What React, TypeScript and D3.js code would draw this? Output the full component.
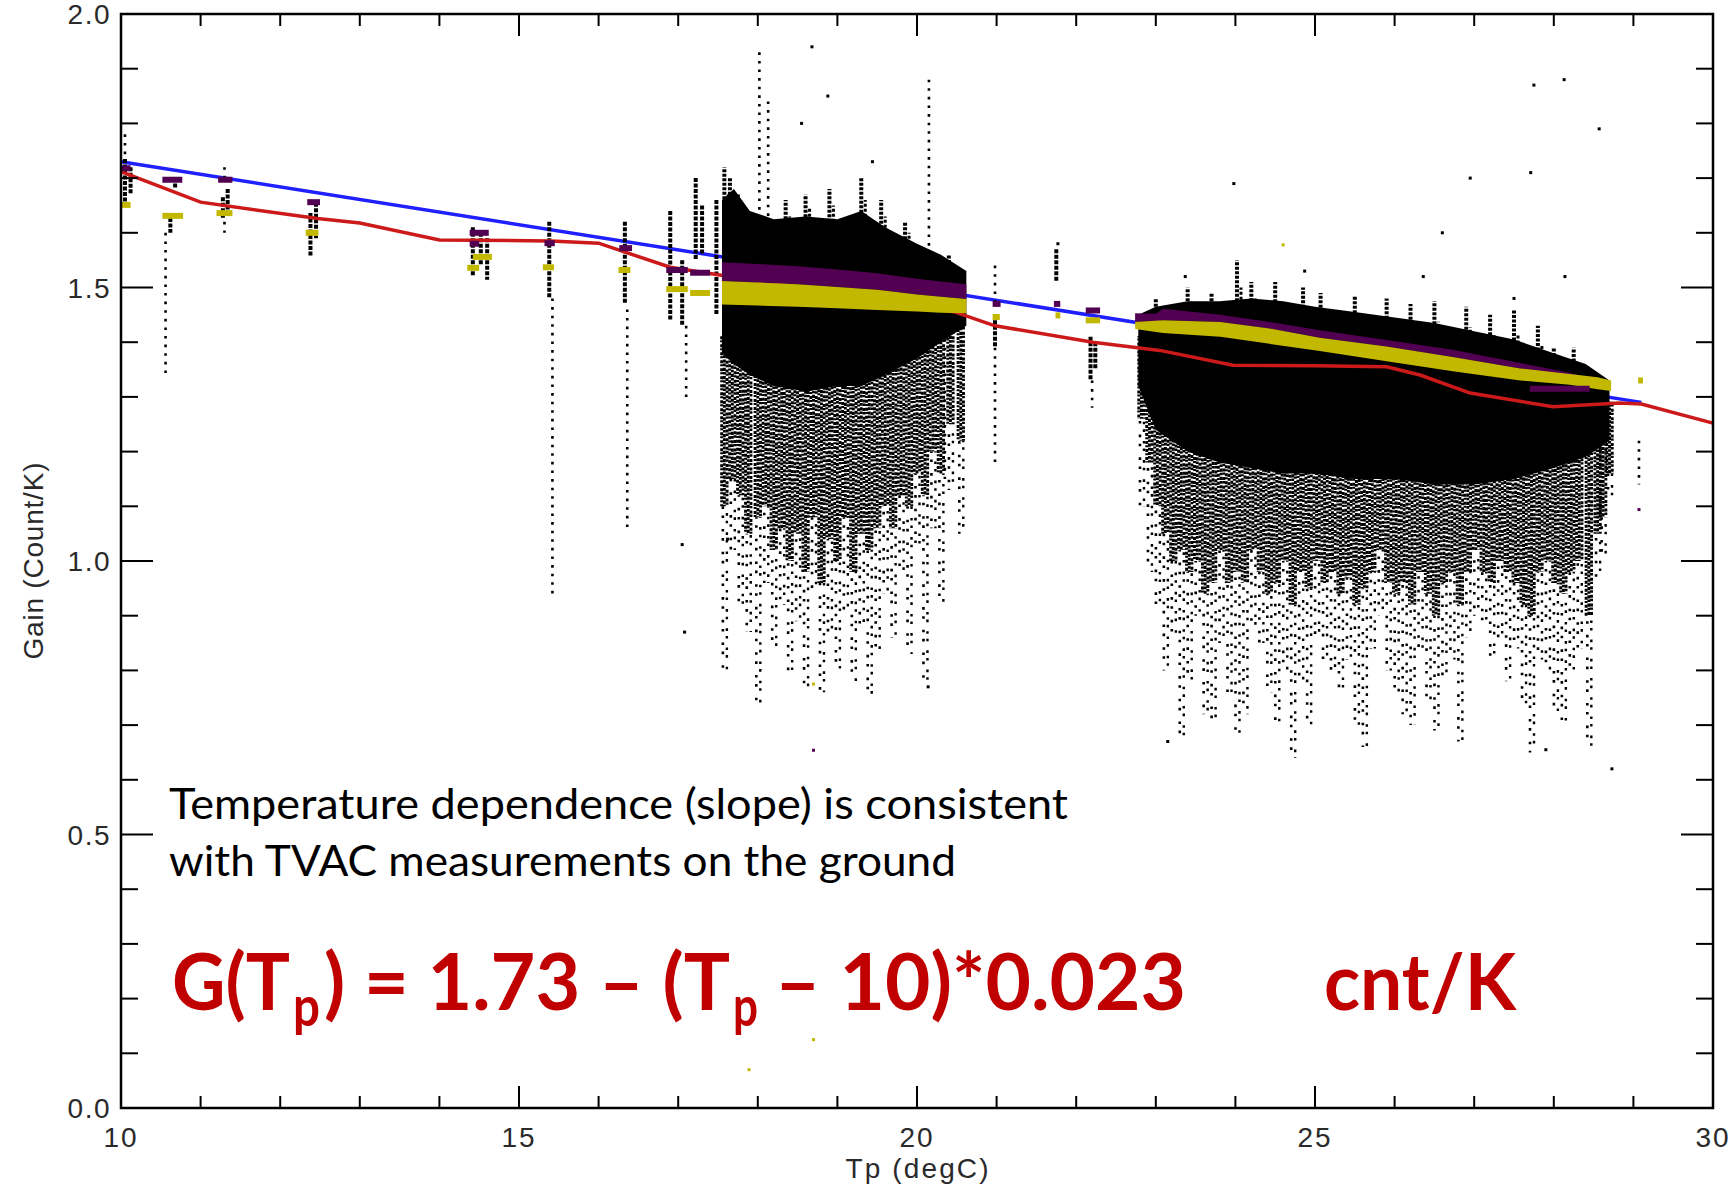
import React from "react";
import * as d3 from "d3";

// ---- chart data ----
const xMajor = [10, 15, 20, 25, 30];
const yMajor = [0.0, 0.5, 1.0, 1.5, 2.0];

// blue line: ground (TVAC) fit, two end points
const blueT = [10.0, 29.1];
const blueG = [1.73, 1.29];

// red line: on-orbit running gain
const redT = [10, 11.0, 12.47, 13.0, 14.0, 15.4, 16.0, 16.9, 17.52, 18.5, 19.5, 20.48, 20.98, 22.21, 23.05, 23.97, 25.0, 25.9, 26.32, 26.95, 27.99, 28.83, 29.1, 30];
const redG = [1.712, 1.656, 1.626, 1.618, 1.587, 1.585, 1.581, 1.537, 1.523, 1.5, 1.475, 1.455, 1.43, 1.4, 1.385, 1.358, 1.357, 1.355, 1.34, 1.307, 1.282, 1.289, 1.287, 1.252];

// dense black cores [T, top, bottom]
const core1: [number, number, number][] = [
  [17.55, 1.66, 1.38], [17.7, 1.68, 1.36], [17.9, 1.64, 1.34], [18.2, 1.625, 1.32], [18.6, 1.63, 1.31],
  [19.0, 1.625, 1.32], [19.3, 1.64, 1.32], [19.6, 1.61, 1.34], [20.0, 1.58, 1.37], [20.3, 1.56, 1.4], [20.62, 1.53, 1.43],
];
const core2: [number, number, number][] = [
  [22.78, 1.45, 1.32], [23.0, 1.465, 1.24], [23.4, 1.475, 1.2], [23.8, 1.475, 1.18], [24.2, 1.48, 1.17], [24.6, 1.475, 1.16],
  [25.0, 1.465, 1.16], [25.5, 1.455, 1.15], [26.0, 1.445, 1.15], [26.5, 1.435, 1.14], [27.0, 1.42, 1.14], [27.5, 1.405, 1.15],
  [28.0, 1.38, 1.17], [28.4, 1.36, 1.19], [28.7, 1.33, 1.22],
];

// purple / yellow bands inside the clusters [T, top, bottom]
const purple1: [number, number, number][] = [
  [17.55, 1.546, 1.512], [18.0, 1.543, 1.509], [18.5, 1.539, 1.506], [19.0, 1.533, 1.501], [19.5, 1.526, 1.496],
  [20.0, 1.516, 1.487], [20.3, 1.511, 1.483], [20.62, 1.506, 1.479],
];
const yellow1: [number, number, number][] = [
  [17.55, 1.512, 1.469], [18.0, 1.509, 1.467], [18.5, 1.506, 1.465], [19.0, 1.501, 1.462], [19.5, 1.496, 1.459],
  [20.0, 1.487, 1.456], [20.3, 1.483, 1.454], [20.62, 1.479, 1.453],
];
const purple2: [number, number, number][] = [
  [22.74, 1.453, 1.437], [23.0, 1.452, 1.438], [23.09, 1.461, 1.44], [23.81, 1.45, 1.437], [24.43, 1.437, 1.425],
  [25.06, 1.422, 1.408], [25.9, 1.404, 1.392], [26.73, 1.386, 1.373], [27.58, 1.362, 1.352], [28.2, 1.344, 1.34], [28.4, 1.336, 1.332],
];
const yellow2: [number, number, number][] = [
  [22.74, 1.437, 1.424], [23.09, 1.44, 1.417], [23.81, 1.437, 1.41], [24.43, 1.425, 1.397], [25.06, 1.408, 1.384],
  [25.9, 1.392, 1.365], [26.73, 1.373, 1.347], [27.58, 1.352, 1.33], [28.2, 1.342, 1.322], [28.55, 1.336, 1.314], [28.72, 1.33, 1.311],
];

// dotted columns below the cores [T, top, end of dense part, bottom]
const streaks1: [number, number, number, number][] = [
  [17.58, 1.4, 1.1, 0.8], [17.68, 1.38, 1.15, 1.02], [17.78, 1.37, 1.12, 0.92], [17.88, 1.36, 1.05, 0.87],
  [18.0, 1.35, 1.08, 0.74], [18.1, 1.34, 1.1, 0.96], [18.2, 1.33, 1.02, 0.84], [18.3, 1.33, 1.06, 0.92],
  [18.4, 1.32, 1.0, 0.8], [18.5, 1.32, 1.05, 0.89], [18.6, 1.32, 0.98, 0.77], [18.7, 1.32, 1.08, 0.95],
  [18.8, 1.32, 0.96, 0.76], [18.9, 1.32, 1.04, 0.86], [19.0, 1.33, 1.0, 0.8], [19.1, 1.33, 1.08, 0.91],
  [19.2, 1.33, 0.98, 0.78], [19.3, 1.33, 1.05, 0.88], [19.4, 1.34, 1.02, 0.75], [19.5, 1.34, 1.06, 0.83],
  [19.6, 1.35, 1.1, 0.94], [19.7, 1.36, 1.06, 0.86], [19.8, 1.37, 1.12, 0.98], [19.9, 1.38, 1.1, 0.83],
  [20.0, 1.39, 1.16, 1.02], [20.1, 1.4, 1.12, 0.78], [20.2, 1.41, 1.2, 1.06], [20.3, 1.42, 1.16, 0.92],
  [20.42, 1.43, 1.25, 1.13], [20.55, 1.44, 1.22, 1.05],
];
const streaks2: [number, number, number, number][] = [
  [22.82, 1.4, 1.26, 1.1], [22.92, 1.3, 1.18, 0.98], [23.02, 1.26, 1.1, 0.92], [23.12, 1.24, 1.05, 0.8],
  [23.22, 1.23, 1.0, 0.86], [23.32, 1.22, 1.02, 0.67], [23.42, 1.21, 0.98, 0.78], [23.52, 1.2, 1.0, 0.9],
  [23.62, 1.2, 0.94, 0.72], [23.72, 1.2, 0.96, 0.7], [23.82, 1.19, 1.02, 0.85], [23.92, 1.19, 0.96, 0.75],
  [24.02, 1.18, 0.98, 0.68], [24.12, 1.18, 0.96, 0.72], [24.22, 1.18, 1.02, 0.88], [24.32, 1.17, 0.98, 0.85],
  [24.42, 1.17, 0.94, 0.76], [24.52, 1.17, 0.96, 0.7], [24.62, 1.17, 1.0, 0.8], [24.72, 1.17, 0.92, 0.64],
  [24.82, 1.17, 0.98, 0.78], [24.92, 1.17, 0.95, 0.7], [25.02, 1.17, 1.0, 0.86], [25.12, 1.17, 0.96, 0.82],
  [25.22, 1.16, 0.98, 0.8], [25.32, 1.16, 0.94, 0.76], [25.42, 1.16, 0.97, 0.82], [25.52, 1.16, 0.92, 0.7],
  [25.62, 1.16, 0.95, 0.66], [25.72, 1.16, 0.98, 0.84], [25.82, 1.16, 1.02, 0.9], [25.92, 1.16, 0.96, 0.8],
  [26.02, 1.16, 0.94, 0.76], [26.12, 1.15, 0.96, 0.72], [26.22, 1.15, 0.92, 0.7], [26.32, 1.15, 0.98, 0.84],
  [26.42, 1.15, 0.94, 0.74], [26.52, 1.15, 0.9, 0.69], [26.62, 1.15, 0.96, 0.78], [26.72, 1.15, 0.98, 0.82],
  [26.82, 1.15, 0.92, 0.67], [26.92, 1.15, 0.98, 0.86], [27.02, 1.15, 1.02, 0.9], [27.12, 1.15, 0.98, 0.89],
  [27.22, 1.15, 0.96, 0.82], [27.32, 1.15, 1.0, 0.86], [27.42, 1.16, 0.98, 0.78], [27.52, 1.16, 0.96, 0.84],
  [27.62, 1.16, 0.92, 0.74], [27.72, 1.16, 0.9, 0.65], [27.82, 1.17, 0.98, 0.82], [27.92, 1.17, 1.0, 0.8],
  [28.02, 1.18, 0.96, 0.72], [28.12, 1.18, 0.94, 0.7], [28.22, 1.19, 0.98, 0.8], [28.32, 1.2, 1.0, 0.84],
  [28.44, 1.22, 0.9, 0.66], [28.55, 1.22, 1.05, 0.97], [28.62, 1.24, 1.08, 1.0], [28.7, 1.28, 1.16, 1.12],
];

// spikes above the cores [T, bottom, top]
const spikes: [number, number, number][] = [
  [17.58, 1.62, 1.72], [17.65, 1.62, 1.7], [17.75, 1.6, 1.67], [18.35, 1.6, 1.66], [18.6, 1.62, 1.67],
  [18.9, 1.62, 1.68], [19.3, 1.62, 1.7], [19.55, 1.6, 1.66], [19.85, 1.58, 1.62], [20.4, 1.52, 1.56],
  [23.0, 1.44, 1.48], [23.4, 1.45, 1.5], [23.7, 1.45, 1.49], [24.02, 1.45, 1.55], [24.2, 1.45, 1.51],
  [24.5, 1.44, 1.51], [24.85, 1.43, 1.5], [25.07, 1.43, 1.49], [25.5, 1.42, 1.485], [25.9, 1.41, 1.48],
  [26.2, 1.4, 1.47], [26.5, 1.4, 1.475], [26.9, 1.39, 1.465], [27.2, 1.38, 1.45], [27.5, 1.37, 1.46],
  [27.8, 1.36, 1.43], [28.0, 1.35, 1.39], [28.25, 1.34, 1.39],
];

// small solid black groups [T, top, bottom]
const smallBlack: [number, number, number][] = [
  [10.05, 1.735, 1.656], [10.12, 1.72, 1.67], [10.68, 1.7, 1.68], [10.62, 1.627, 1.6], [11.28, 1.665, 1.625],
  [11.34, 1.68, 1.64], [12.38, 1.636, 1.556], [12.45, 1.655, 1.59], [14.42, 1.61, 1.52], [14.52, 1.6, 1.54],
  [14.6, 1.59, 1.514], [15.38, 1.62, 1.48], [16.33, 1.62, 1.47], [16.9, 1.64, 1.44], [17.05, 1.55, 1.43],
  [17.22, 1.7, 1.55], [17.3, 1.65, 1.56], [17.48, 1.66, 1.45], [20.98, 1.44, 1.39], [21.75, 1.57, 1.51],
  [22.18, 1.41, 1.33], [22.24, 1.4, 1.35],
];

// sparse dotted columns [T, top, bottom]
const sparseCols: [number, number, number][] = [
  [10.05, 1.78, 1.73], [10.56, 1.6, 1.335], [11.3, 1.72, 1.69], [11.3, 1.62, 1.6], [15.42, 1.48, 0.93],
  [16.36, 1.46, 1.06], [17.1, 1.43, 1.3], [20.98, 1.54, 1.47], [20.98, 1.39, 1.18], [22.2, 1.33, 1.28],
  [18.02, 1.93, 1.62], [18.13, 1.84, 1.62], [20.15, 1.88, 1.56], [20.35, 1.5, 1.15], [29.07, 1.22, 1.14],
];

// isolated black points [T, G]
const outliers: [number, number][] = [
  [18.68, 1.94], [18.55, 1.8], [18.88, 1.85], [19.44, 1.73], [17.05, 1.03], [17.08, 0.87], [28.13, 1.88],
  [27.75, 1.87], [28.57, 1.79], [27.71, 1.71], [26.95, 1.7], [26.6, 1.6], [23.98, 1.69], [23.37, 1.52],
  [24.87, 1.53], [26.36, 1.52], [28.14, 1.52], [28.73, 0.62], [27.9, 0.655], [23.15, 0.67], [17.62, 1.04],
  [20.14, 0.77], [21.77, 1.58], [27.5, 1.48],
];

// short purple / yellow marks [T0, T1, G]
const purpleBars: [number, number, number][] = [
  [10.0, 10.12, 1.718], [10.52, 10.77, 1.697], [11.22, 11.4, 1.697], [12.34, 12.5, 1.656], [14.38, 14.62, 1.6],
  [14.38, 14.5, 1.58], [15.32, 15.45, 1.581], [16.26, 16.42, 1.572], [16.85, 17.12, 1.532], [17.15, 17.4, 1.527],
  [20.95, 21.05, 1.47], [21.72, 21.8, 1.47], [22.12, 22.3, 1.458], [27.7, 28.45, 1.315],
];
const yellowBars: [number, number, number][] = [
  [10.0, 10.12, 1.651], [10.52, 10.78, 1.631], [11.2, 11.4, 1.636], [12.32, 12.48, 1.6], [14.42, 14.66, 1.556],
  [14.35, 14.5, 1.536], [15.3, 15.44, 1.537], [16.25, 16.4, 1.532], [16.85, 17.12, 1.497], [17.15, 17.4, 1.49],
  [20.95, 21.04, 1.446], [21.74, 21.8, 1.449], [22.12, 22.3, 1.44], [29.06, 29.12, 1.33],
];
const purpleDots: [number, number][] = [[18.7, 0.654], [29.07, 1.094]];
const yellowDots: [number, number][] = [[18.7, 0.125], [17.89, 0.07], [24.6, 1.578], [18.7, 0.775]];

// formula pieces: text, left x, width, subscript?
const formulaParts: [string, number, number, boolean][] = [
  ["G(T", 172, 118, false],
  ["p", 293, 27, true],
  [") = 1.73 – (T", 324, 406, false],
  ["p", 733, 25, true],
  ["– 10)*0.023", 775, 411, false],
  ["cnt/K", 1324, 192, false],
];

const W = 1731;
const H = 1186;
const PURPLE = "#520052";
const YELLOW = "#c2b800";

// how one dotted column is stroked: several offset strands give the speckle
const denseStrands = [
  {dx: -2.7, dash: "3 1.1 2 1.9", w: 2.9},
  {dx: 0, dash: "2.6 1.5 3.2 1", w: 2.9},
  {dx: 2.7, dash: "3 1 2.4 2.2", w: 2.9},
];
const sparseStrands = [
  {dx: -1.5, dash: "2.6 6.5 2.6 11", w: 2.6},
  {dx: 2.5, dash: "2.6 9 2.6 5", w: 2.4},
];
// dash phase per column so neighbouring columns do not line up
const phase = [0, 2.3, 0.9, 3.4, 1.6, 2.9, 0.4, 3.1, 1.2, 4.2, 0.6];

const App = () => {
  const x = d3.scaleLinear().domain([10, 30]).range([121, 1713]);
  const y = d3.scaleLinear().domain([0, 2]).range([1108, 14]);

  const line = d3.line<[number, number]>().x(d => x(d[0])).y(d => y(d[1]));
  const band = d3.area<[number, number, number]>().x(d => x(d[0])).y0(d => y(d[2])).y1(d => y(d[1]));

  const redPts = redT.map((t, i) => [t, redG[i]] as [number, number]);
  const bluePts = blueT.map((t, i) => [t, blueG[i]] as [number, number]);

  const xMinor = d3.range(10, 31, 1).filter(v => !xMajor.includes(v));
  const yMinor = d3.range(0, 21, 1).map(v => v / 10).filter(v => !yMajor.includes(v));

  const axisFont = "'Liberation Sans', Arial, sans-serif";
  const noteFont = "Lato, 'Open Sans', sans-serif";

  return (
    <svg width={W} height={H} style={{display: "block", background: "#fff"}}>
      <style>{`body{margin:0}`}</style>

      {/* blue line underneath the data */}
      <path d={line(bluePts) ?? ""} fill="none" stroke="#1f1fff" strokeWidth={3.5} />

      {/* black points */}
      <g>
        <path d={band(core1) ?? ""} fill="#000" />
        <path d={band(core2) ?? ""} fill="#000" />
        {[...streaks1, ...streaks2].map((d, i) => (
          <g key={"s" + i}>
            {denseStrands.map((s, j) => (
              <line key={"d" + j} x1={x(d[0]) + s.dx} x2={x(d[0]) + s.dx} y1={y(d[1]) - 6} y2={y(d[2])}
                    stroke="#000" strokeWidth={s.w} strokeDasharray={s.dash}
                    strokeDashoffset={phase[(i * 3 + j * 5) % phase.length] * 2} />
            ))}
            {sparseStrands.map((s, j) => (
              <line key={"p" + j} x1={x(d[0]) + s.dx} x2={x(d[0]) + s.dx} y1={y(d[2])} y2={y(d[3])}
                    stroke="#000" strokeWidth={s.w} strokeDasharray={s.dash}
                    strokeDashoffset={phase[(i * 7 + j * 4) % phase.length] * 3} />
            ))}
          </g>
        ))}
        {spikes.map((d, i) => (
          <g key={"k" + i}>
            <line x1={x(d[0])} x2={x(d[0])} y1={y(d[1])} y2={y(d[2])}
                  stroke="#000" strokeWidth={4} strokeDasharray="3 1.5" />
            <line x1={x(d[0]) + 4} x2={x(d[0]) + 4} y1={y(d[1])} y2={y((d[1] + d[2]) / 2)}
                  stroke="#000" strokeWidth={3} strokeDasharray="3 2" />
          </g>
        ))}
        {smallBlack.map((d, i) => (
          <line key={"b" + i} x1={x(d[0])} x2={x(d[0])} y1={y(d[1])} y2={y(d[2])}
                stroke="#000" strokeWidth={4} strokeDasharray="4 1.5" />
        ))}
        {sparseCols.map((d, i) => (
          <line key={"c" + i} x1={x(d[0])} x2={x(d[0])} y1={y(d[1])} y2={y(d[2])}
                stroke="#000" strokeWidth={2.6} strokeDasharray="2.6 6" />
        ))}
        {outliers.map((d, i) => (
          <rect key={"o" + i} x={x(d[0]) - 1.5} y={y(d[1]) - 1.5} width={3} height={3} fill="#000" />
        ))}
      </g>

      {/* red line over the black points */}
      <path d={line(redPts) ?? ""} fill="none" stroke="#cc1a1a" strokeWidth={3.5} />

      {/* purple and yellow points */}
      <g>
        <path d={band(purple1) ?? ""} fill={PURPLE} />
        <path d={band(purple2) ?? ""} fill={PURPLE} />
        <path d={band(yellow1) ?? ""} fill={YELLOW} />
        <path d={band(yellow2) ?? ""} fill={YELLOW} />
        {purpleBars.map((d, i) => (
          <line key={"p" + i} x1={x(d[0])} x2={x(d[1])} y1={y(d[2])} y2={y(d[2])} stroke={PURPLE} strokeWidth={6} />
        ))}
        {yellowBars.map((d, i) => (
          <line key={"y" + i} x1={x(d[0])} x2={x(d[1])} y1={y(d[2])} y2={y(d[2])} stroke={YELLOW} strokeWidth={6} />
        ))}
        {purpleDots.map((d, i) => (
          <rect key={"pd" + i} x={x(d[0]) - 1.5} y={y(d[1]) - 1.5} width={3} height={3} fill={PURPLE} />
        ))}
        {yellowDots.map((d, i) => (
          <rect key={"yd" + i} x={x(d[0]) - 1.5} y={y(d[1]) - 1.5} width={3} height={3} fill={YELLOW} />
        ))}
      </g>

      {/* frame and ticks */}
      <g stroke="#000" strokeWidth={2}>
        {xMajor.map(v => (
          <g key={"xm" + v}>
            <line x1={x(v)} x2={x(v)} y1={y(0)} y2={y(0) - 22} />
            <line x1={x(v)} x2={x(v)} y1={y(2)} y2={y(2) + 22} />
          </g>
        ))}
        {xMinor.map(v => (
          <g key={"xn" + v}>
            <line x1={x(v)} x2={x(v)} y1={y(0)} y2={y(0) - 12} />
            <line x1={x(v)} x2={x(v)} y1={y(2)} y2={y(2) + 12} />
          </g>
        ))}
        {yMajor.map(v => (
          <g key={"ym" + v}>
            <line x1={x(10)} x2={x(10) + 32} y1={y(v)} y2={y(v)} />
            <line x1={x(30)} x2={x(30) - 32} y1={y(v)} y2={y(v)} />
          </g>
        ))}
        {yMinor.map(v => (
          <g key={"yn" + v}>
            <line x1={x(10)} x2={x(10) + 17} y1={y(v)} y2={y(v)} />
            <line x1={x(30)} x2={x(30) - 17} y1={y(v)} y2={y(v)} />
          </g>
        ))}
        <rect x={x(10)} y={y(2)} width={x(30) - x(10)} height={y(0) - y(2)} fill="none" strokeWidth={2.5} />
      </g>

      {/* tick labels */}
      <g fontFamily={axisFont} fontSize={28} fill="#2a2a2a">
        {xMajor.map(v => (
          <text key={"xl" + v} x={x(v)} y={1147} textAnchor="middle" letterSpacing={2}>{v}</text>
        ))}
        {yMajor.map(v => (
          <text key={"yl" + v} x={x(10) - 10} y={y(v) + 10} textAnchor="end" letterSpacing={1.5}>{v.toFixed(1)}</text>
        ))}
        <text x={x(20)} y={1178} textAnchor="middle" fontSize={28} textLength={143} lengthAdjust="spacing">Tp (degC)</text>
        <text transform={`translate(43, ${y(1.0)}) rotate(-90)`} textAnchor="middle" fontSize={28}
              textLength={197} lengthAdjust="spacing">Gain (Count/K)</text>
      </g>

      {/* annotation */}
      <g fontFamily={noteFont}>
        <text x={169} y={819} fontSize={43} fill="#000" textLength={899} lengthAdjust="spacingAndGlyphs">
          Temperature dependence (slope) is consistent
        </text>
        <text x={169} y={876} fontSize={43} fill="#000" textLength={787} lengthAdjust="spacingAndGlyphs">
          with TVAC measurements on the ground
        </text>
        {formulaParts.map(([t, px, w, sub], i) => (
          <text key={"f" + i} x={px} y={sub ? 1026 : 1010} fontSize={sub ? 56 : 78} fontWeight={700} fill="#c00000"
                textLength={w} lengthAdjust="spacingAndGlyphs">{t}</text>
        ))}
      </g>
    </svg>
  );
};

export default App;
